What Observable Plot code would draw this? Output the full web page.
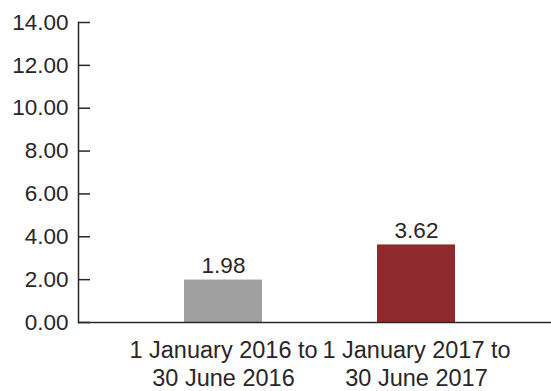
<!DOCTYPE html>
<html>
<head>
<meta charset="utf-8">
<script src="https://cdn.jsdelivr.net/npm/d3@7"></script>
<script src="https://cdn.jsdelivr.net/npm/@observablehq/plot@0.6"></script>
<style>
  html, body { margin: 0; padding: 0; background: #fff; }
  svg { font-family: "Liberation Sans", Arial, sans-serif; }
</style>
</head>
<body>
<div id="chart"></div>
<script>
const categories = ["1 January 2016 to\n30 June 2016", "1 January 2017 to\n30 June 2017"];
const values = [1.98, 3.62];
const barColors = ["#a0a0a0", "#8e2a2d"];
const yTicks = [0, 2, 4, 6, 8, 10, 12, 14];

const data = categories.map((c, i) => ({category: c, value: values[i], color: barColors[i]}));

const W = 551, H = 391, mL = 78, mR = 0;
const textColor = "#2a2526";

const chart = Plot.plot({
  width: W,
  height: H,
  marginLeft: mL,
  marginRight: mR,
  marginTop: 22,
  marginBottom: 69,
  style: {fontSize: "22px", color: textColor, background: "#fff"},
  x: {domain: categories, range: [126.5, 512.5], paddingInner: 0.596, paddingOuter: 0.298},
  y: {domain: [0, 14]},
  marks: [
    Plot.barY(data, {x: "category", y: "value", fill: "color"}),
    Plot.text(data, {x: "category", y: "value", text: d => d.value.toFixed(2), lineAnchor: "bottom", dy: -7, fill: textColor, fontSize: 22.5}),
    Plot.ruleY([0], {stroke: textColor, strokeWidth: 1.5}),
    Plot.frame({anchor: "left", stroke: textColor, strokeWidth: 1.5}),
    Plot.ruleY(yTicks, {stroke: textColor, strokeWidth: 1.5, insetRight: W - mL - mR - 12}),
    Plot.axisY({ticks: yTicks, tickSize: 0, tickPadding: 10, tickFormat: d => d.toFixed(2), label: null, fill: textColor, fontSize: 22.5}),
    Plot.axisX({tickSize: 0, tickPadding: 16, label: null, lineHeight: 1.19, fill: textColor, fontSize: 23.5})
  ]
});
document.getElementById("chart").appendChild(chart);
</script>
</body>
</html>
